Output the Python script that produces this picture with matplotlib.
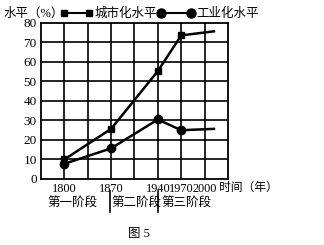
import matplotlib
matplotlib.use("Agg")
import matplotlib.pyplot as plt

plt.rcParams['font.family'] = ['Liberation Serif', 'Noto Sans CJK SC']

years = ["1800", "1870", "1940", "1970", "2000"]
year_pos = [1, 3, 5, 6, 7]
line_pos = [1, 3, 5, 6, 7.4]
urban = [10, 25.7, 55.3, 73.6, 75.7]
industry = [7.8, 15.7, 30.5, 25, 25.7]
yticks = [0, 10, 20, 30, 40, 50, 60, 70, 80]

fig = plt.figure(figsize=(3.24, 2.45), dpi=100)
ax = fig.add_axes([0.1265, 0.2694, 0.577, 0.637])
ax.set_xlim(0, 8)
ax.set_ylim(0, 80)
for x in range(1, 8):
    ax.axvline(x, color='black', lw=1.2, zorder=1)
for y in yticks[1:-1]:
    ax.axhline(y, color='black', lw=1.2, zorder=1)
for s in ax.spines.values():
    s.set_linewidth(1.3)

ax.plot(line_pos[:4], urban[:4], color='black', lw=1.8, marker='s', ms=5, zorder=3)
ax.plot(line_pos[3:], urban[3:], color='black', lw=1.8, zorder=3)
ax.plot(line_pos[:4], industry[:4], color='black', lw=1.8, marker='o', ms=6, zorder=3)
ax.plot(line_pos[3:], industry[3:], color='black', lw=1.8, zorder=3)

ax.set_xticks(year_pos)
ax.set_xticklabels(years, fontsize=8.8)
ax.set_yticks(yticks)
ax.set_yticklabels([str(v) for v in yticks], fontsize=9.5)
ax.tick_params(length=0, pad=3)

# y-axis title and legend
fig.text(0.01, 0.945, "水平（%）", fontsize=9, va='center', ha='left')
ax.plot([0.197, 0.276], [0.945, 0.945], transform=fig.transFigure, color='black', lw=1.5,
        marker='s', ms=4, clip_on=False)
fig.text(0.292, 0.945, "城市化水平", fontsize=9, va='center', ha='left')
ax.plot([0.497, 0.59], [0.945, 0.945], transform=fig.transFigure, color='black', lw=1.5,
        marker='o', ms=6.5, clip_on=False)
fig.text(0.607, 0.945, "工业化水平", fontsize=9, va='center', ha='left')

fig.text(0.675, 0.233, "时间（年）", fontsize=8.5, va='center', ha='left')

fig.text(0.145, 0.17, "第一阶段", fontsize=9, va='center', ha='left')
fig.text(0.345, 0.17, "第二阶段", fontsize=9, va='center', ha='left')
fig.text(0.497, 0.17, "第三阶段", fontsize=9, va='center', ha='left')
fig.add_artist(plt.Line2D([0.338, 0.338], [0.135, 0.22], color='black', lw=1.2))
fig.add_artist(plt.Line2D([0.487, 0.487], [0.135, 0.22], color='black', lw=1.2))

fig.text(0.43, 0.045, "图 5", fontsize=9, va='center', ha='center')

fig.savefig("out.png", dpi=100)
